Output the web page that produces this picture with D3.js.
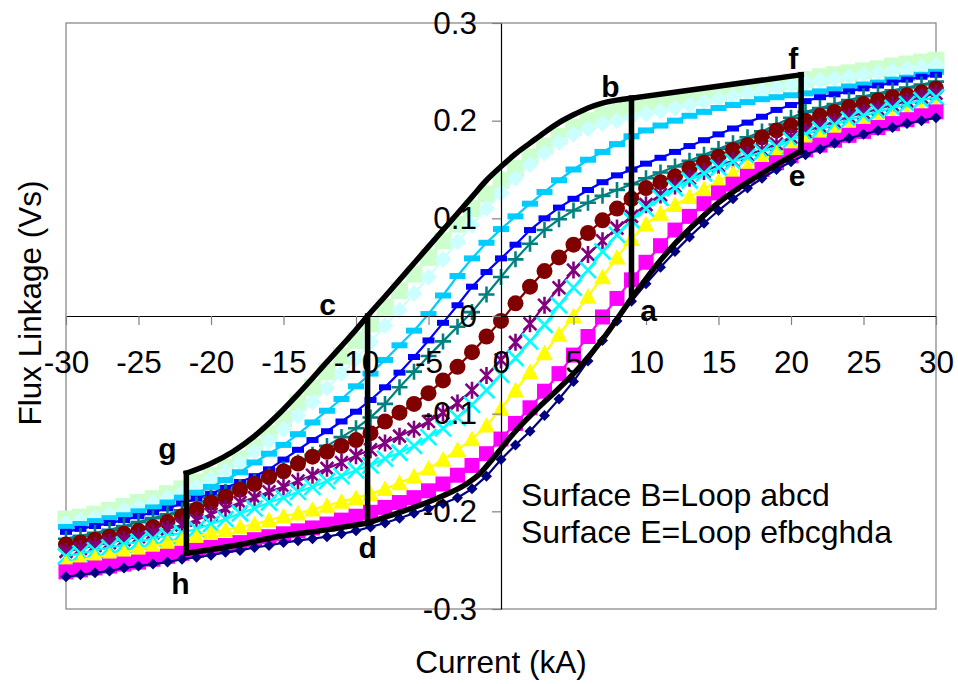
<!DOCTYPE html>
<html>
<head>
<meta charset="utf-8">
<script src="https://cdnjs.cloudflare.com/ajax/libs/d3/7.8.5/d3.min.js"></script>
<style>
  body { margin: 0; background: #fff; }
  text { font-family: "Liberation Sans", Arial, sans-serif; }
</style>
</head>
<body>
<script>
// current samples (kA)
var current = [-30,-29,-28,-27,-26,-25,-24,-23,-22,-21,-20,-19,-18,-17,-16,-15,-14,-13,-12,-11,
  -10,-9,-8,-7,-6,-5,-4,-3,-2,-1,0,1,2,3,4,5,6,7,8,9,10,11,12,13,14,15,16,17,18,19,
  20,21,22,23,24,25,26,27,28,29,30];

// flux linkage curves (Vs), one per curve
var lightGreen = [-0.208,-0.206,-0.203,-0.199,-0.195,-0.191,-0.187,-0.182,-0.177,-0.170,
  -0.163,-0.155,-0.146,-0.134,-0.120,-0.105,-0.089,-0.073,-0.057,-0.041,
  -0.025,-0.008,0.009,0.026,0.043,0.060,0.077,0.094,0.110,0.125,
  0.139,0.151,0.163,0.174,0.184,0.193,0.200,0.206,0.210,0.213,
  0.216,0.219,0.221,0.224,0.226,0.228,0.231,0.233,0.235,0.238,
  0.240,0.242,0.245,0.247,0.249,0.251,0.253,0.256,0.258,0.260,0.262];
var lightCyan = [-0.212,-0.209,-0.206,-0.203,-0.199,-0.195,-0.191,-0.186,-0.181,-0.175,
  -0.167,-0.159,-0.150,-0.139,-0.128,-0.116,-0.102,-0.088,-0.074,-0.059,
  -0.044,-0.027,-0.010,0.006,0.023,0.040,0.058,0.076,0.093,0.110,
  0.126,0.141,0.155,0.167,0.178,0.186,0.192,0.197,0.200,0.204,
  0.207,0.210,0.213,0.216,0.219,0.222,0.225,0.228,0.231,0.234,
  0.237,0.239,0.241,0.243,0.245,0.247,0.249,0.251,0.253,0.255,0.257];
var skyBlue = [-0.216,-0.213,-0.210,-0.207,-0.204,-0.200,-0.196,-0.191,-0.186,-0.181,
  -0.175,-0.168,-0.160,-0.150,-0.141,-0.132,-0.121,-0.109,-0.097,-0.085,
  -0.072,-0.059,-0.045,-0.030,-0.015,0.002,0.021,0.041,0.059,0.075,
  0.089,0.102,0.115,0.127,0.139,0.150,0.160,0.168,0.176,0.184,
  0.190,0.195,0.200,0.205,0.209,0.213,0.216,0.219,0.222,0.224,
  0.226,0.228,0.230,0.232,0.235,0.237,0.239,0.242,0.244,0.247,0.250];
var blue = [-0.221,-0.218,-0.215,-0.212,-0.209,-0.205,-0.201,-0.197,-0.192,-0.187,
  -0.182,-0.176,-0.170,-0.164,-0.157,-0.147,-0.137,-0.127,-0.118,-0.108,
  -0.098,-0.086,-0.073,-0.058,-0.042,-0.025,-0.007,0.011,0.030,0.045,
  0.059,0.073,0.088,0.100,0.111,0.120,0.129,0.137,0.144,0.150,
  0.156,0.162,0.168,0.174,0.180,0.186,0.192,0.198,0.204,0.211,
  0.216,0.220,0.224,0.227,0.230,0.233,0.236,0.239,0.242,0.245,0.247];
var teal = [-0.228,-0.225,-0.222,-0.219,-0.215,-0.211,-0.207,-0.203,-0.199,-0.193,
  -0.186,-0.180,-0.175,-0.170,-0.164,-0.157,-0.150,-0.142,-0.133,-0.124,
  -0.115,-0.104,-0.090,-0.073,-0.057,-0.041,-0.026,-0.011,0.004,0.022,
  0.040,0.058,0.074,0.088,0.099,0.108,0.116,0.123,0.129,0.135,
  0.141,0.147,0.153,0.159,0.165,0.171,0.177,0.183,0.189,0.196,
  0.203,0.209,0.213,0.217,0.221,0.225,0.228,0.231,0.234,0.237,0.240];
var darkRed = [-0.234,-0.232,-0.229,-0.226,-0.223,-0.220,-0.216,-0.211,-0.205,-0.198,
  -0.191,-0.185,-0.178,-0.172,-0.165,-0.159,-0.151,-0.144,-0.139,-0.133,
  -0.127,-0.120,-0.108,-0.099,-0.090,-0.079,-0.066,-0.052,-0.037,-0.021,
  -0.005,0.013,0.030,0.046,0.060,0.073,0.085,0.098,0.110,0.120,
  0.131,0.137,0.143,0.151,0.157,0.163,0.170,0.175,0.183,0.190,
  0.195,0.200,0.205,0.209,0.214,0.217,0.221,0.224,0.226,0.229,0.233];
var purple = [-0.241,-0.238,-0.235,-0.232,-0.229,-0.226,-0.222,-0.218,-0.214,-0.209,
  -0.203,-0.197,-0.191,-0.186,-0.180,-0.175,-0.169,-0.163,-0.156,-0.150,
  -0.143,-0.137,-0.130,-0.123,-0.116,-0.108,-0.099,-0.089,-0.076,-0.061,
  -0.045,-0.027,-0.008,0.011,0.029,0.047,0.063,0.077,0.090,0.102,
  0.114,0.124,0.133,0.141,0.148,0.154,0.159,0.165,0.170,0.176,
  0.183,0.189,0.194,0.199,0.204,0.208,0.212,0.216,0.220,0.224,0.228];
var cyan = [-0.246,-0.243,-0.240,-0.237,-0.234,-0.231,-0.228,-0.225,-0.222,-0.218,
  -0.213,-0.208,-0.202,-0.197,-0.191,-0.186,-0.180,-0.175,-0.169,-0.164,
  -0.158,-0.153,-0.146,-0.140,-0.133,-0.124,-0.115,-0.104,-0.091,-0.076,
  -0.060,-0.043,-0.026,-0.009,0.011,0.029,0.047,0.066,0.083,0.098,
  0.110,0.121,0.131,0.139,0.146,0.152,0.158,0.163,0.168,0.173,
  0.180,0.186,0.191,0.196,0.201,0.205,0.209,0.213,0.217,0.221,0.224];
var yellow = [-0.253,-0.250,-0.247,-0.245,-0.242,-0.239,-0.236,-0.232,-0.229,-0.226,
  -0.222,-0.219,-0.216,-0.213,-0.209,-0.205,-0.202,-0.198,-0.194,-0.190,
  -0.186,-0.182,-0.177,-0.171,-0.164,-0.156,-0.147,-0.137,-0.126,-0.112,
  -0.095,-0.076,-0.057,-0.038,-0.019,0.000,0.020,0.040,0.060,0.079,
  0.094,0.105,0.114,0.122,0.130,0.138,0.146,0.153,0.160,0.166,
  0.172,0.178,0.183,0.188,0.192,0.196,0.200,0.203,0.207,0.211,0.214];
var magenta = [-0.262,-0.260,-0.258,-0.256,-0.254,-0.252,-0.249,-0.246,-0.243,-0.240,
  -0.237,-0.235,-0.232,-0.229,-0.226,-0.223,-0.220,-0.217,-0.213,-0.209,
  -0.205,-0.201,-0.196,-0.191,-0.186,-0.179,-0.172,-0.163,-0.153,-0.141,
  -0.126,-0.110,-0.094,-0.077,-0.059,-0.040,-0.021,-0.001,0.018,0.037,
  0.055,0.072,0.088,0.102,0.115,0.126,0.135,0.143,0.150,0.157,
  0.164,0.170,0.175,0.180,0.185,0.189,0.193,0.197,0.201,0.205,0.209];
var darkBlue = [-0.267,-0.265,-0.263,-0.261,-0.258,-0.256,-0.254,-0.252,-0.249,-0.247,
  -0.245,-0.242,-0.240,-0.237,-0.235,-0.232,-0.230,-0.228,-0.226,-0.223,
  -0.220,-0.216,-0.212,-0.207,-0.202,-0.197,-0.192,-0.186,-0.177,-0.164,
  -0.147,-0.132,-0.118,-0.102,-0.085,-0.067,-0.046,-0.025,-0.005,0.015,
  0.033,0.050,0.066,0.081,0.095,0.108,0.120,0.131,0.141,0.150,
  0.158,0.165,0.171,0.177,0.182,0.186,0.190,0.193,0.197,0.200,0.203];

// black loop: upper branch g..b, lower branch d..e, corners
var loopUpper = [[-21.7,-0.161],[-20,-0.151],[-18.5,-0.139],[-17,-0.123],[-15.5,-0.103],[-14,-0.080],
  [-12,-0.047],[-10,-0.014],[-9.2,0.000],[-8,0.020],[-6,0.054],[-4,0.088],[-2,0.122],[-1,0.139],
  [0,0.153],[1,0.166],[2,0.177],[3,0.188],[4,0.198],[5,0.206],[6,0.213],[7,0.218],[8,0.221],[9,0.223]];
var loopLower = [[-9.2,-0.212],[-8,-0.206],[-6,-0.196],[-4,-0.184],[-2.5,-0.173],[-1.5,-0.162],
  [-0.5,-0.145],[1,-0.118],[2.5,-0.095],[4,-0.074],[5.5,-0.051],[7,-0.024],[9,0.018],[10,0.038],
  [11,0.057],[12,0.074],[13,0.089],[14,0.103],[15,0.116],[16,0.127],[17,0.137],[18,0.146],[19,0.155],[20.7,0.169]];
var loopHD = [[-21.7,-0.243],[-18,-0.234],[-15.5,-0.226],[-12,-0.219],[-9.2,-0.212]];
var corners = {a:[9.0,0.020], b:[9.0,0.223], c:[-9.2,0.0], d:[-9.2,-0.212],
  e:[20.7,0.169], f:[20.7,0.247], g:[-21.7,-0.161], h:[-21.7,-0.243]};

var xTicks = [-30,-25,-20,-15,-10,-5,0,5,10,15,20,25,30];
var yTicks = [-0.3,-0.2,-0.1,0,0.1,0.2,0.3];
var notes = ['Surface B=Loop abcd', 'Surface E=Loop efbcghda'];

var series = [
  {values: lightGreen, color: '#CCFFCC', marker: 'square', r: 8.5},
  {values: lightCyan, color: '#CCFFFF', marker: 'diamond', r: 8.5},
  {values: skyBlue, color: '#00CCFF', marker: 'dash', r: 8},
  {values: blue, color: '#0000FF', marker: 'dash', r: 6},
  {values: teal, color: '#008080', marker: 'plus', r: 8},
  {values: darkRed, color: '#800000', marker: 'circle', r: 8},
  {values: purple, color: '#800080', marker: 'star', r: 8.5},
  {values: cyan, color: '#00FFFF', marker: 'cross', r: 8},
  {values: yellow, color: '#FFFF00', marker: 'triangle', r: 8.5},
  {values: magenta, color: '#FF00FF', marker: 'square', r: 7.5},
  {values: darkBlue, color: '#000080', marker: 'diamond', r: 5.5}
];

var W = 958, H = 684;
var svg = d3.select('body').append('svg')
    .attr('width', W)
    .attr('height', H);

var x = d3.scaleLinear().domain([-30, 30]).range([66, 936]);
var y = d3.scaleLinear().domain([-0.3, 0.3]).range([609, 23]);

svg.append('rect')
    .attr('x', x(-30)).attr('y', y(0.3))
    .attr('width', x(30) - x(-30)).attr('height', y(-0.3) - y(0.3))
    .attr('fill', 'none').attr('stroke', '#808080').attr('stroke-width', 1.2);

function markerPath(type, r) {
  if (type === 'square') return 'M' + (-r) + ',' + (-r) + 'h' + 2*r + 'v' + 2*r + 'h' + (-2*r) + 'Z';
  if (type === 'diamond') return 'M0,' + (-r) + 'L' + r + ',0L0,' + r + 'L' + (-r) + ',0Z';
  if (type === 'dash') return 'M' + (-r) + ',-3h' + 2*r + 'v6h' + (-2*r) + 'Z';
  if (type === 'triangle') return 'M0,' + (-r) + 'L' + r + ',' + (r*0.85) + 'L' + (-r) + ',' + (r*0.85) + 'Z';
  if (type === 'plus') return 'M' + (-r) + ',0H' + r + 'M0,' + (-r) + 'V' + r;
  if (type === 'cross') return 'M' + (-r) + ',' + (-r) + 'L' + r + ',' + r + 'M' + (-r) + ',' + r + 'L' + r + ',' + (-r);
  if (type === 'star') {
    var k = r * 0.75;
    return 'M0,' + (-r) + 'V' + r + 'M' + (-k) + ',' + (-k) + 'L' + k + ',' + k + 'M' + (-k) + ',' + k + 'L' + k + ',' + (-k);
  }
  return '';
}

var line = d3.line()
    .x(function(d, i) { return x(current[i]); })
    .y(function(d) { return y(d); });

series.forEach(function(s) {
  var g = svg.append('g');
  g.append('path')
      .attr('d', line(s.values))
      .attr('fill', 'none')
      .attr('stroke', s.color)
      .attr('stroke-width', 2.2);
  var stroked = (s.marker === 'plus' || s.marker === 'cross' || s.marker === 'star');
  if (s.marker === 'circle') {
    g.selectAll('circle').data(s.values).enter().append('circle')
        .attr('cx', function(d, i) { return x(current[i]); })
        .attr('cy', function(d) { return y(d); })
        .attr('r', s.r)
        .attr('fill', s.color);
  } else {
    g.selectAll('path.m').data(s.values).enter().append('path')
        .attr('class', 'm')
        .attr('transform', function(d, i) { return 'translate(' + x(current[i]) + ',' + y(d) + ')'; })
        .attr('d', markerPath(s.marker, s.r))
        .attr('fill', stroked ? 'none' : s.color)
        .attr('stroke', stroked ? s.color : 'none')
        .attr('stroke-width', stroked ? 2.6 : 0);
  }
});

// axes crossing at zero
var xAxis = d3.axisBottom(x).tickValues(xTicks).tickSize(9).tickSizeOuter(0).tickPadding(26)
    .tickFormat(function(d) { return String(d); });
var gx = svg.append('g').attr('transform', 'translate(0,' + y(0) + ')').call(xAxis);

var yAxis = d3.axisLeft(y).tickValues(yTicks).tickSize(9).tickSizeOuter(0).tickPadding(15)
    .tickFormat(function(d) { return d === 0 ? '0' : String(+d.toFixed(1)); });
var gy = svg.append('g').attr('transform', 'translate(' + x(0) + ',0)').call(yAxis);

[gx, gy].forEach(function(g) {
  g.attr('font-family', '"Liberation Sans", Arial, sans-serif').attr('font-size', 31.5);
  g.select('.domain').attr('stroke', '#000').attr('stroke-width', 1.2);
  g.selectAll('.tick line').attr('stroke', '#808080').attr('stroke-width', 1.2);
  g.selectAll('.tick text').attr('fill', '#000');
});

// loop efbcghda
var loopLine = d3.line()
    .x(function(d) { return x(d[0]); })
    .y(function(d) { return y(d[1]); })
    .curve(d3.curveMonotoneX);
var straight = d3.line()
    .x(function(d) { return x(d[0]); })
    .y(function(d) { return y(d[1]); });
var loopG = svg.append('g')
    .attr('fill', 'none')
    .attr('stroke', '#000')
    .attr('stroke-width', 5.5)
    .attr('stroke-linejoin', 'round')
    .attr('stroke-linecap', 'square');
loopG.append('path').attr('d', loopLine(loopUpper));
loopG.append('path').attr('d', loopLine(loopLower));
loopG.append('path').attr('d', loopLine(loopHD));
[['b','f'],['f','e'],['b','a'],['c','d'],['g','h']].forEach(function(p) {
  loopG.append('path').attr('d', straight([corners[p[0]], corners[p[1]]]));
});

// corner letters
var letterOffset = {a:[17,25], b:[-21,-1], c:[-40,-1], d:[0,35], e:[-4,35], f:[-8,-6], g:[-19,-14], h:[-6,41]};
Object.keys(corners).forEach(function(k) {
  svg.append('text')
      .attr('x', x(corners[k][0]) + letterOffset[k][0])
      .attr('y', y(corners[k][1]) + letterOffset[k][1])
      .attr('text-anchor', 'middle')
      .attr('font-size', 30)
      .attr('font-weight', 'bold')
      .text(k);
});

svg.selectAll('text.note').data(notes).enter().append('text')
    .attr('class', 'note')
    .attr('x', 521)
    .attr('y', function(d, i) { return 506 + i * 37; })
    .attr('font-size', 32)
    .text(function(d) { return d; });

svg.append('text')
    .attr('x', (x(-30) + x(30)) / 2)
    .attr('y', 673)
    .attr('text-anchor', 'middle')
    .attr('font-size', 31.5)
    .text('Current (kA)');

svg.append('text')
    .attr('transform', 'translate(41,' + 303 + ') rotate(-90)')
    .attr('text-anchor', 'middle')
    .attr('font-size', 31.5)
    .text('Flux Linkage (Vs)');
</script>
</body>
</html>
